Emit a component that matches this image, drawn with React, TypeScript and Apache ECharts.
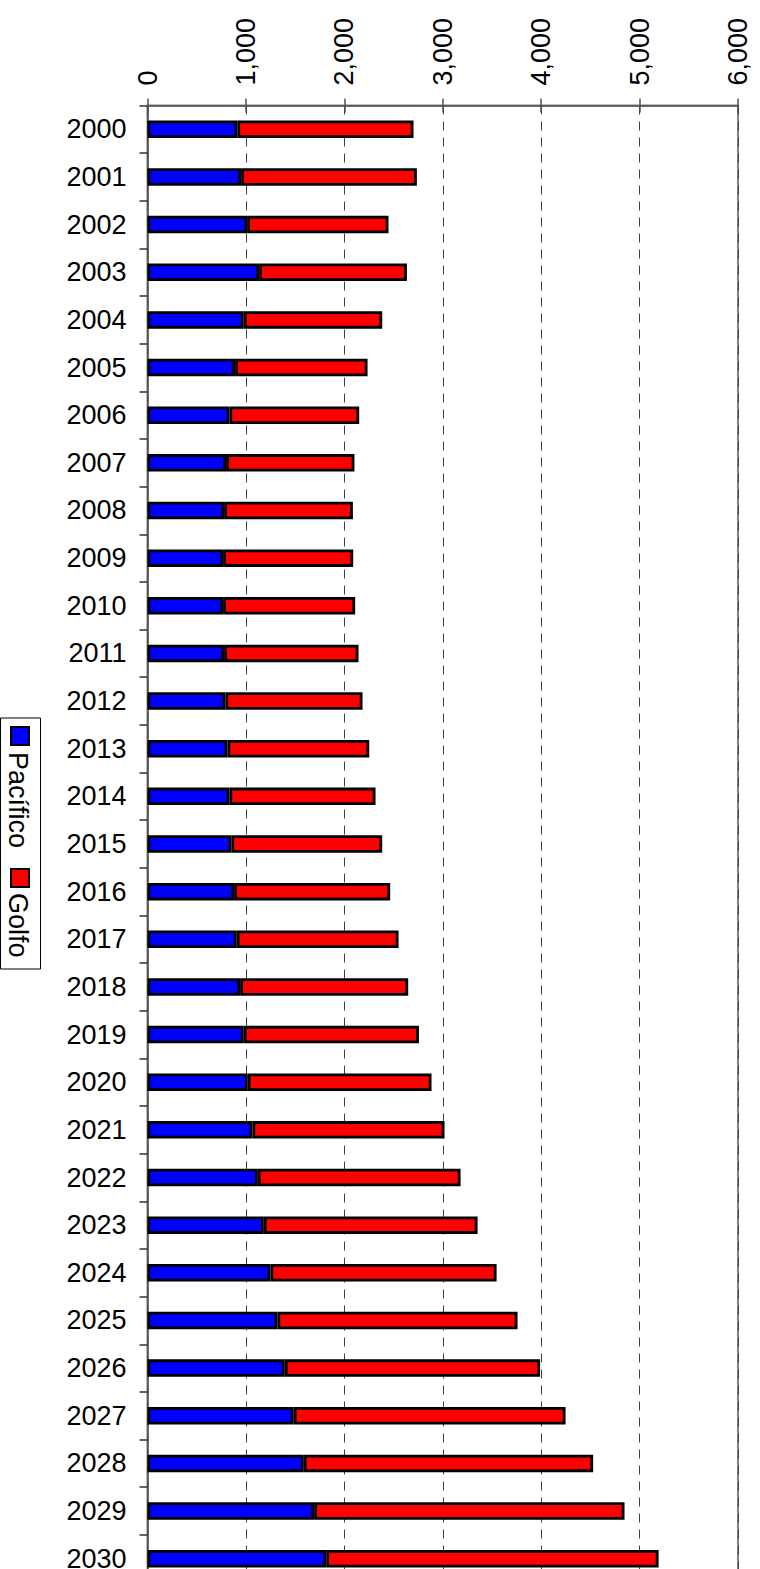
import React, { useEffect, useRef } from "react";
import * as echarts from "echarts";

const years = [
  "2000", "2001", "2002", "2003", "2004", "2005", "2006", "2007", "2008", "2009",
  "2010", "2011", "2012", "2013", "2014", "2015", "2016", "2017", "2018", "2019",
  "2020", "2021", "2022", "2023", "2024", "2025", "2026", "2027", "2028", "2029", "2030",
];

const pacifico = [
  913, 951, 1012, 1134, 978, 890, 832, 798, 778, 768,
  768, 778, 791, 812, 832, 852, 880, 907, 941, 978,
  1019, 1066, 1121, 1182, 1249, 1320, 1395, 1486, 1588, 1693, 1816,
];

const golfo = [
  1790, 1786, 1437, 1502, 1407, 1346, 1319, 1305, 1309, 1322,
  1342, 1366, 1394, 1441, 1485, 1533, 1586, 1644, 1708, 1780,
  1867, 1952, 2060, 2172, 2298, 2440, 2594, 2762, 2940, 3154, 3377,
];

const valueTicks = [0, 1000, 2000, 3000, 4000, 5000, 6000];

const FONT = "'Liberation Sans', Arial, Helvetica, sans-serif";

export default function App() {
  const ref = useRef<HTMLDivElement>(null);

  useEffect(() => {
    if (!ref.current) return;
    const chart = echarts.init(ref.current, null, { renderer: "svg" });
    const vMin = valueTicks[0];
    const vMax = valueTicks[valueTicks.length - 1];
    chart.setOption({
      animation: false,
      backgroundColor: "#ffffff",
      textStyle: { fontFamily: FONT },
      grid: {
        left: 147.5,
        top: 105.5,
        right: 22,
        bottom: 0.5,
        show: true,
        borderColor: "#808080",
        borderWidth: 2,
        backgroundColor: "transparent",
      },
      xAxis: [
        {
          type: "value",
          position: "top",
          min: vMin,
          max: vMax,
          interval: 1000,
          axisLine: { show: true, lineStyle: { color: "#505050", width: 1.5 } },
          axisTick: { show: true, length: 7, lineStyle: { color: "#505050", width: 1.5 } },
          axisLabel: {
            rotate: -90,
            margin: 20,
            fontSize: 27,
            color: "#000",
            fontFamily: FONT,
            formatter: (v: number) => v.toLocaleString("en-US"),
          },
          splitLine: {
            show: true,
            lineStyle: { color: "#404040", width: 1, type: [9, 7] },
          },
        },
        {
          type: "value",
          position: "top",
          min: vMin,
          max: vMax,
          interval: 1000,
          axisLine: { show: false },
          axisTick: { show: true, inside: true, length: 7, lineStyle: { color: "#505050", width: 1.5 } },
          axisLabel: { show: false },
          splitLine: { show: false },
        },
      ],
      yAxis: {
        type: "category",
        data: years,
        inverse: true,
        axisLine: { show: true, lineStyle: { color: "#505050", width: 1.5 } },
        axisTick: { show: true, length: 8, alignWithLabel: false, lineStyle: { color: "#303030", width: 1.5 } },
        axisLabel: { margin: 21, fontSize: 27, color: "#000", fontFamily: FONT },
        splitLine: { show: false },
      },
      series: [
        {
          name: "Pacífico",
          type: "bar",
          stack: "total",
          xAxisIndex: 0,
          data: pacifico,
          barWidth: 17.5,
          itemStyle: { color: "#0000ff", borderColor: "#000", borderWidth: 2.8 },
        },
        {
          name: "Golfo",
          type: "bar",
          stack: "total",
          xAxisIndex: 0,
          data: golfo,
          barWidth: 17.5,
          itemStyle: { color: "#ff0000", borderColor: "#000", borderWidth: 2.8 },
        },
      ],
      graphic: [
        {
          type: "group",
          children: [
            {
              type: "rect",
              shape: { x: 0.5, y: 718, width: 40, height: 251 },
              style: { fill: "#fff", stroke: "#000", lineWidth: 1 },
            },
            {
              type: "rect",
              shape: { x: 11, y: 727, width: 18, height: 18 },
              style: { fill: "#0000ff", stroke: "#000", lineWidth: 2 },
            },
            {
              type: "text",
              x: 17.5,
              y: 752,
              rotation: -Math.PI / 2,
              style: {
                text: "Pacífico",
                fontSize: 27,
                fontFamily: FONT,
                fill: "#000",
                align: "left",
                verticalAlign: "middle",
              },
            },
            {
              type: "rect",
              shape: { x: 11, y: 869, width: 18, height: 18 },
              style: { fill: "#ff0000", stroke: "#000", lineWidth: 2 },
            },
            {
              type: "text",
              x: 17.5,
              y: 893,
              rotation: -Math.PI / 2,
              style: {
                text: "Golfo",
                fontSize: 27,
                fontFamily: FONT,
                fill: "#000",
                align: "left",
                verticalAlign: "middle",
              },
            },
          ],
        },
      ],
    });
    return () => chart.dispose();
  }, []);

  return (
    <div
      style={{
        position: "absolute",
        left: 0,
        top: 0,
        width: 760,
        height: 1569,
        overflow: "hidden",
      }}
    >
      <div ref={ref} style={{ width: 760, height: 1583 }} />
    </div>
  );
}
